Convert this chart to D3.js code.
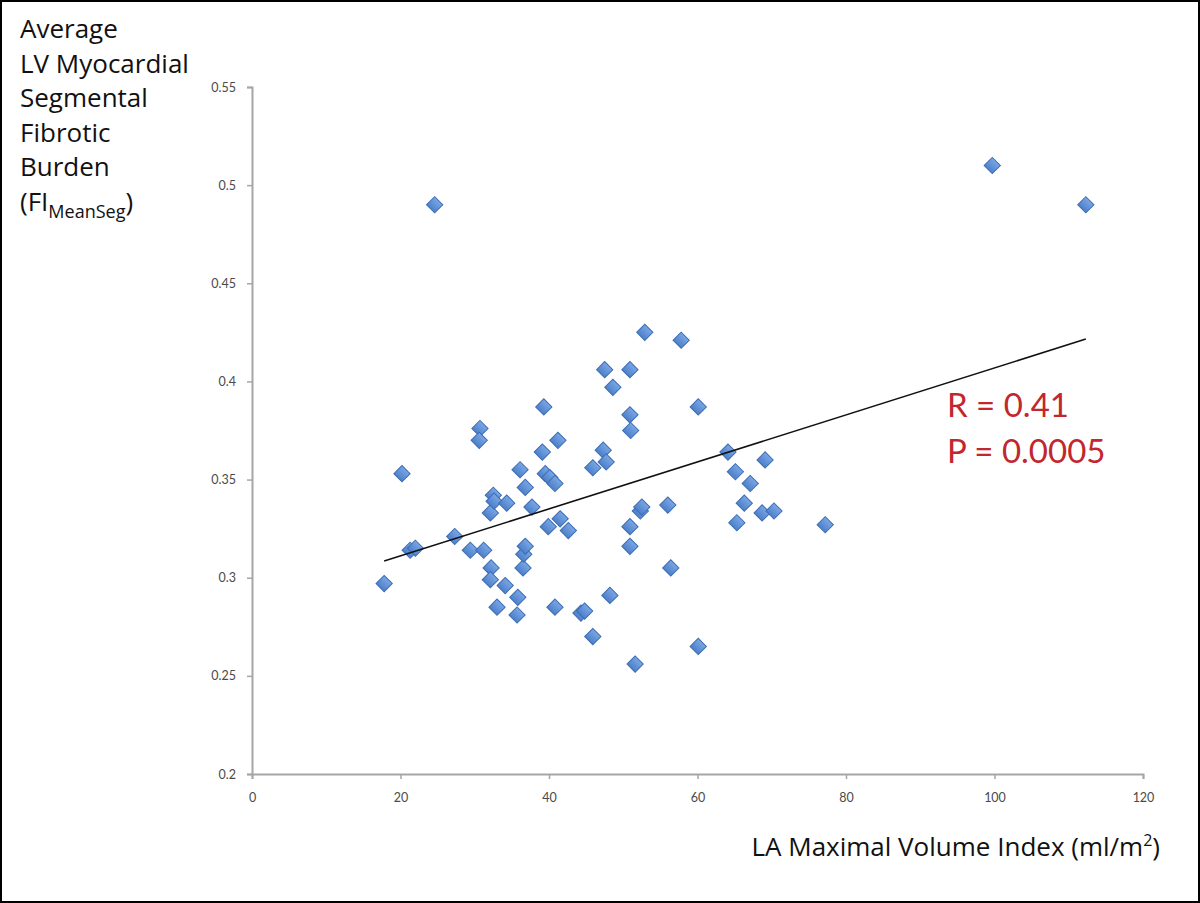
<!DOCTYPE html>
<html><head><meta charset="utf-8">
<script src="https://cdn.jsdelivr.net/npm/d3@7"></script>
<style>html,body{margin:0;padding:0;background:#fff;}svg{display:block;}</style>
</head><body>
<script>
const laVolume = [17.8,20.2,21.3,22.0,24.6,27.3,29.4,30.7,30.6,31.2,32.1,32.5,32.6,32.2,32.1,33.0,34.3,34.1,35.7,35.8,36.1,36.5,36.6,36.8,36.8,37.7,39.3,39.1,39.5,40.1,39.9,40.8,40.8,41.2,41.5,42.6,44.3,44.8,45.9,45.9,47.3,47.5,47.7,48.2,48.6,50.9,50.9,51.0,50.9,50.9,51.6,52.3,52.5,52.9,56.0,56.4,57.8,60.1,60.1,64.1,65.1,65.3,66.3,67.1,68.7,69.1,70.3,77.2,99.7,112.3];
const fibroticBurden = [0.297,0.353,0.314,0.315,0.490,0.321,0.314,0.376,0.370,0.314,0.333,0.342,0.339,0.305,0.299,0.285,0.338,0.296,0.281,0.290,0.355,0.305,0.312,0.316,0.346,0.336,0.387,0.364,0.353,0.351,0.326,0.348,0.285,0.370,0.330,0.324,0.282,0.283,0.270,0.356,0.365,0.406,0.359,0.291,0.397,0.406,0.383,0.375,0.326,0.316,0.256,0.334,0.336,0.425,0.337,0.305,0.421,0.387,0.265,0.364,0.354,0.328,0.338,0.348,0.333,0.360,0.334,0.327,0.510,0.490];
const trendX = [17.8, 112.3];
const trendY = [0.3085, 0.4216];
const xTicks = [0,20,40,60,80,100,120];
const yTicks = [0.2,0.25,0.3,0.35,0.4,0.45,0.5,0.55];
const yTitleLines = ["Average","LV Myocardial","Segmental","Fibrotic","Burden"];
const statsLines = ["R = 0.41","P = 0.0005"];

const W=1200,H=903;
const svg=d3.select("body").append("svg").attr("width",W).attr("height",H);
svg.append("rect").attr("x",1).attr("y",1).attr("width",W-2).attr("height",H-2).attr("fill","#fff").attr("stroke","#000").attr("stroke-width",2);

const x=d3.scaleLinear().domain([0,120]).range([252,1143]);
const y=d3.scaleLinear().domain([0.2,0.55]).range([774,87]);
const font="Lato, 'Open Sans', sans-serif";
const tfont="'Open Sans', Lato, sans-serif";

const gx=svg.append("g").attr("transform","translate(0,774)")
  .call(d3.axisBottom(x).tickValues(xTicks).tickFormat(d3.format("d")).tickSize(5).tickPadding(14));
const gy=svg.append("g").attr("transform","translate(252,0)")
  .call(d3.axisLeft(y).tickValues(yTicks).tickFormat(d=>String(+d.toFixed(2))).tickSize(5).tickPadding(11));
[gx,gy].forEach(g=>{
  g.select(".domain").attr("stroke","#a6a6a6").attr("stroke-width",2);
  g.selectAll(".tick line").attr("stroke","#a6a6a6").attr("stroke-width",1.5);
  g.selectAll(".tick text").attr("fill","#4a4a4a").style("font-family",font).style("font-size","12.5px");
});

// points
const data=laVolume.map((v,i)=>({x:v,y:fibroticBurden[i]}));
const defs=svg.append("defs");
const grad=defs.append("linearGradient").attr("id","dg").attr("x1","0").attr("y1","0").attr("x2","0").attr("y2","1");
grad.append("stop").attr("offset","0%").attr("stop-color","#7aa6e6");
grad.append("stop").attr("offset","100%").attr("stop-color","#4d80c9");
const sym=d3.symbol().type(d3.symbolSquare).size(132);
svg.append("g").selectAll("path").data(data).join("path")
  .attr("d",sym)
  .attr("transform",d=>`translate(${x(d.x)},${y(d.y)}) rotate(45)`)
  .attr("fill","url(#dg)").attr("stroke","#3d6db3").attr("stroke-width",1);

// trend line
svg.append("line")
  .attr("x1",x(trendX[0])).attr("y1",y(trendY[0]))
  .attr("x2",x(trendX[1])).attr("y2",y(trendY[1]))
  .attr("stroke","#111").attr("stroke-width",1.6);

// stats
svg.append("g").selectAll("text").data(statsLines).join("text")
  .attr("x",947).attr("y",(d,i)=>417+i*46)
  .attr("fill","#c1272d").style("font-family",font).style("font-size","33px").text(d=>d);

// y title
const yt=svg.append("g").style("font-family",tfont).style("font-size","26px").attr("fill","#111");
yt.selectAll("text.l").data(yTitleLines).join("text").attr("class","l")
  .attr("x",20).attr("y",(d,i)=>38+i*34.6).text(d=>d);
const last=yt.append("text").attr("x",20).attr("y",38+5*34.6);
last.append("tspan").text("(FI");
last.append("tspan").attr("dy",7).style("font-size","18px").text("MeanSeg");
last.append("tspan").attr("dy",-7).text(")");

// x title
const xt=svg.append("text").attr("x",1160).attr("y",856).attr("text-anchor","end")
  .style("font-family",tfont).style("font-size","26px").attr("fill","#111");
xt.append("tspan").text("LA Maximal Volume Index (ml/m");
xt.append("tspan").attr("dy",-10).style("font-size","16px").text("2");
xt.append("tspan").attr("dy",10).text(")");
</script>
</body></html>
